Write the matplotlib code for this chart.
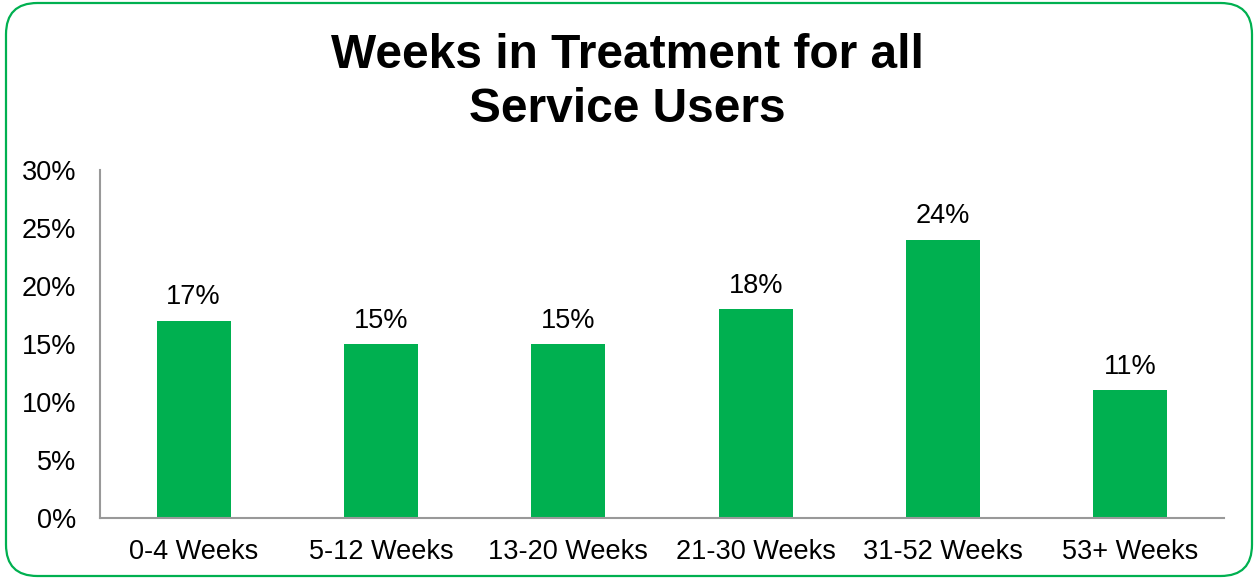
import matplotlib.pyplot as plt
from matplotlib.patches import FancyBboxPatch
from matplotlib.ticker import FuncFormatter

plt.rcParams['font.family'] = ['Liberation Sans', 'DejaVu Sans']

categories = ['0-4 Weeks', '5-12 Weeks', '13-20 Weeks', '21-30 Weeks', '31-52 Weeks', '53+ Weeks']
shares = [17, 15, 15, 18, 24, 11]

green = '#00b050'

fig = plt.figure(figsize=(12.54, 5.8), dpi=100, facecolor='white')
ax = fig.add_axes([100 / 1254, 1 - 518 / 580, 1124 / 1254, 348 / 580])

x = range(len(categories))
ax.bar(x, shares, width=0.395, color=green, zorder=2)
for i, v in zip(x, shares):
    ax.text(i, v + 0.9, f'{v}%', ha='center', va='bottom', fontsize=19.5)

ax.set_xlim(-0.5, len(categories) - 0.5)
ax.set_ylim(0, 30)
ax.set_yticks(range(0, 31, 5))
ax.yaxis.set_major_formatter(FuncFormatter(lambda v, p: f'{v:.0f}%'))
ax.set_xticks(list(x))
ax.set_xticklabels(categories)
ax.tick_params(axis='both', length=0, labelsize=19.5)
ax.tick_params(axis='y', pad=17)
ax.tick_params(axis='x', pad=15)
for s in ['top', 'right']:
    ax.spines[s].set_visible(False)
for s in ['left', 'bottom']:
    ax.spines[s].set_color('#999999')
    ax.spines[s].set_linewidth(1.5)

fig.text(0.5, 1 - 55 / 580, 'Weeks in Treatment for all', ha='center', va='center',
         fontsize=34.5, fontweight='bold')
fig.text(0.5, 1 - 109 / 580, 'Service Users', ha='center', va='center',
         fontsize=34.5, fontweight='bold')

# rounded green frame around the whole chart
frame = FancyBboxPatch((6 / 1254, 4 / 580), 1246 / 1254, 573 / 580,
                       boxstyle='round,pad=0,rounding_size=0.025',
                       transform=fig.transFigure, fill=False,
                       edgecolor=green, linewidth=1.6,
                       mutation_aspect=1254 / 580)
fig.patches.append(frame)

fig.savefig('out.png', dpi=100, facecolor='white')
